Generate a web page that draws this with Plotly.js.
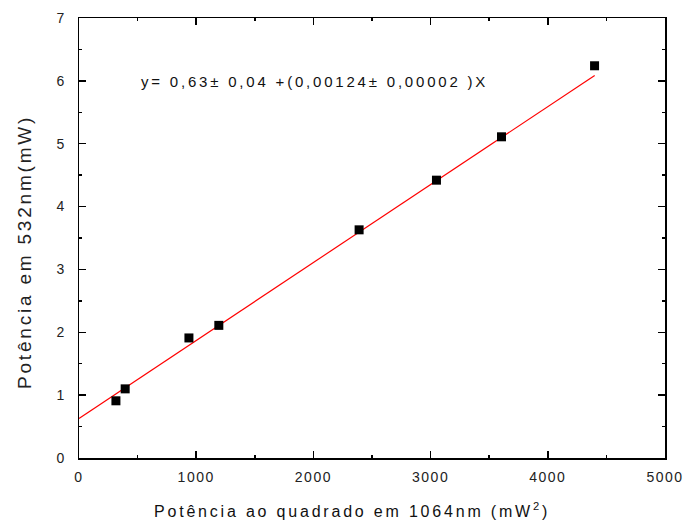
<!DOCTYPE html>
<html>
<head>
<meta charset="utf-8">
<script src="https://cdn.plot.ly/plotly-3.0.1.min.js"></script>
<style>
  html, body { margin: 0; padding: 0; background: #fff; }
  #chart { width: 685px; height: 523px; }
  .xtick text, .ytick text { letter-spacing: 1.5px; }
  .annotation-text { letter-spacing: 2.8px; }
</style>
</head>
<body>
<div id="chart"></div>
<script>
// Measured points: squared 1064 nm power (mW^2) vs. 532 nm power (mW)
const powerSq1064 = [315, 394, 938, 1193, 2390, 3050, 3605, 4399];
const power532 = [0.91, 1.10, 1.91, 2.11, 3.63, 4.42, 5.11, 6.24];

// Linear fit coefficients, as stated in the equation label
const fitIntercept = 0.63;
const fitSlope = 0.00124;
const fitRangeX = [0, 4400];

const xTickVals = [0, 1000, 2000, 3000, 4000, 5000];
const yTickVals = [0, 1, 2, 3, 4, 5, 6, 7];

const xTitle = 'Potência ao quadrado em 1064nm (mW<sup>2</sup>)';
const yTitle = 'Potência em 532nm(mW)';
const fitLabel = 'y= 0,63± 0,04 +(0,00124± 0,00002 )X';

const fitY = fitRangeX.map(x => fitIntercept + fitSlope * x);

const fontFamily = '"Liberation Sans", Arial, sans-serif';

const traces = [
  {
    x: fitRangeX,
    y: fitY,
    type: 'scatter',
    mode: 'lines',
    line: { color: '#ff0000', width: 1.2 },
    hoverinfo: 'skip'
  },
  {
    x: powerSq1064,
    y: power532,
    type: 'scatter',
    mode: 'markers',
    marker: { symbol: 'square', size: 9, color: '#000000' }
  }
];

const axisCommon = {
  showline: true,
  linecolor: '#000',
  linewidth: 1.5,
  mirror: 'ticks',
  ticks: 'inside',
  ticklen: 7,
  tickwidth: 1.5,
  tickcolor: '#000',
  showgrid: false,
  zeroline: false,
  tickfont: { family: fontFamily, size: 14, color: '#222' }
};

const layout = {
  width: 685,
  height: 523,
  margin: { l: 79, r: 20, t: 18, b: 65 },
  paper_bgcolor: '#fff',
  plot_bgcolor: '#fff',
  showlegend: false,
  xaxis: Object.assign({}, axisCommon, {
    range: [0, 5000],
    tickmode: 'array',
    tickvals: xTickVals,
    ticktext: xTickVals.map(String),
    ticklabelstandoff: 6,
    minor: { dtick: 500, tick0: 0, ticks: 'inside', ticklen: 3, tickwidth: 1.5, tickcolor: '#000' }
  }),
  yaxis: Object.assign({}, axisCommon, {
    range: [0, 7],
    tickmode: 'array',
    tickvals: yTickVals,
    ticktext: yTickVals.map(String),
    ticklabelstandoff: 9,
    minor: { dtick: 0.5, tick0: 0, ticks: 'inside', ticklen: 3, tickwidth: 1.5, tickcolor: '#000' }
  }),
  annotations: [
    {
      // fit equation inside the plot area
      xref: 'paper', yref: 'paper',
      x: 0.103, y: 0.855,
      xanchor: 'left', yanchor: 'middle',
      showarrow: false,
      text: fitLabel,
      font: { family: fontFamily, size: 15, color: '#111' }
    },
    {
      // x-axis title
      xref: 'paper', yref: 'paper',
      x: 0.466, y: -0.118,
      xanchor: 'center', yanchor: 'middle',
      showarrow: false,
      text: xTitle,
      font: { family: fontFamily, size: 16, color: '#111' }
    },
    {
      // y-axis title
      xref: 'paper', yref: 'paper',
      x: -0.094, y: 0.468,
      xanchor: 'center', yanchor: 'middle',
      textangle: -90,
      showarrow: false,
      text: yTitle,
      font: { family: fontFamily, size: 19, color: '#222' }
    }
  ]
};

Plotly.newPlot('chart', traces, layout, { displayModeBar: false, staticPlot: true });
</script>
</body>
</html>
